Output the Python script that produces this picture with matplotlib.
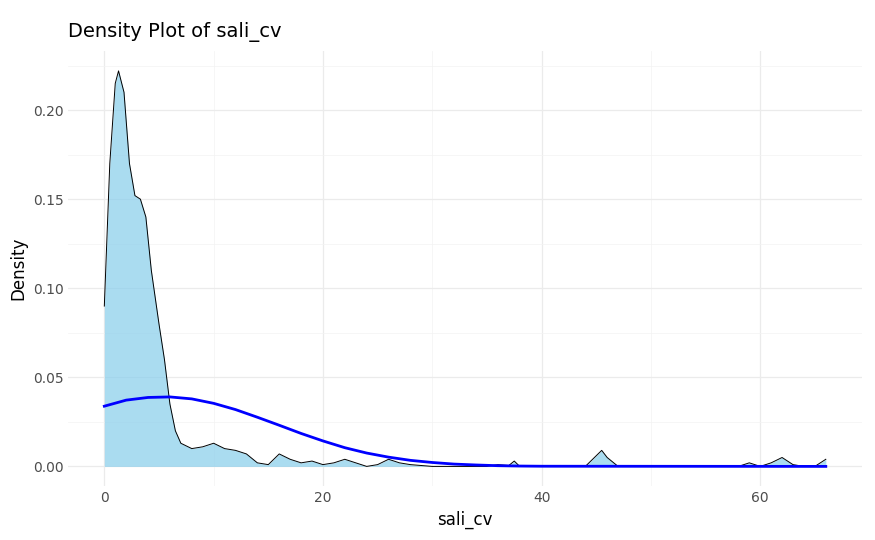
import matplotlib.pyplot as plt
import numpy as np

# kernel density of sali_cv
dens_x = [0, 0.5, 1, 1.3, 1.8, 2.3, 2.8, 3.3, 3.8, 4.3, 5, 5.5, 6, 6.5, 7, 8, 9, 10, 11, 12, 13,
          14, 15, 16, 17, 18, 19, 20, 21, 22, 23, 24, 25, 26, 27, 28, 30, 35, 36, 37, 37.5, 38,
          44, 45, 45.5, 46, 47, 58, 59, 60, 61, 62, 63, 64, 65, 66]
dens_y = [0.09, 0.17, 0.215, 0.222, 0.21, 0.17, 0.152, 0.15, 0.14, 0.11, 0.08, 0.06, 0.035, 0.02,
          0.013, 0.01, 0.011, 0.013, 0.01, 0.009, 0.007, 0.002, 0.001, 0.007, 0.004, 0.002, 0.003,
          0.001, 0.002, 0.004, 0.002, 0.0, 0.001, 0.004, 0.002, 0.001, 0.0, 0.0, 0.001, 0.0005,
          0.003, 0.0, 0.0, 0.006, 0.009, 0.005, 0.0, 0.0, 0.002, 0.0, 0.002, 0.005, 0.001, 0.0, 0.0, 0.004]

# fitted normal curve
norm_x = [0, 2, 4, 6, 8, 10, 12, 14, 16, 18, 20, 22, 24, 26, 28, 30, 32, 34, 36, 38, 40, 66]
norm_y = [0.0338, 0.0372, 0.0387, 0.0390, 0.0379, 0.0354, 0.0319, 0.0276, 0.0231, 0.0185, 0.0143,
          0.0105, 0.0075, 0.0052, 0.0034, 0.0022, 0.0013, 0.0008, 0.0004, 0.0002, 0.0001, 0.0]

fig, ax = plt.subplots(figsize=(8.75, 5.4), dpi=100)
ax.fill_between(dens_x, dens_y, color='skyblue', alpha=0.7, linewidth=0)
ax.plot(dens_x, dens_y, color='black', linewidth=0.7)
ax.plot(norm_x, norm_y, color='blue', linewidth=2)

ax.set_xlim(-3.3, 69.3)
ax.set_ylim(-0.011, 0.233)
ax.set_xticks([0, 20, 40, 60])
ax.set_xticks([10, 30, 50], minor=True)
ax.set_yticks([0, 0.05, 0.10, 0.15, 0.20])
ax.set_yticklabels(['0.00', '0.05', '0.10', '0.15', '0.20'])
ax.set_yticks([0.025, 0.075, 0.125, 0.175, 0.225], minor=True)
ax.grid(which='major', color='#ebebeb', linewidth=0.9)
ax.grid(which='minor', color='#f3f3f3', linewidth=0.5)
ax.set_axisbelow(True)
for s in ax.spines.values():
    s.set_visible(False)
ax.tick_params(which='both', length=0, labelsize=10, labelcolor='#4d4d4d')
ax.set_xlabel('sali_cv', fontsize=12)
ax.set_ylabel('Density', fontsize=12)
ax.set_title('Density Plot of sali_cv', loc='left', fontsize=14, pad=10)
fig.subplots_adjust(left=0.078, right=0.985, top=0.905, bottom=0.1)
fig.savefig('out.png')
